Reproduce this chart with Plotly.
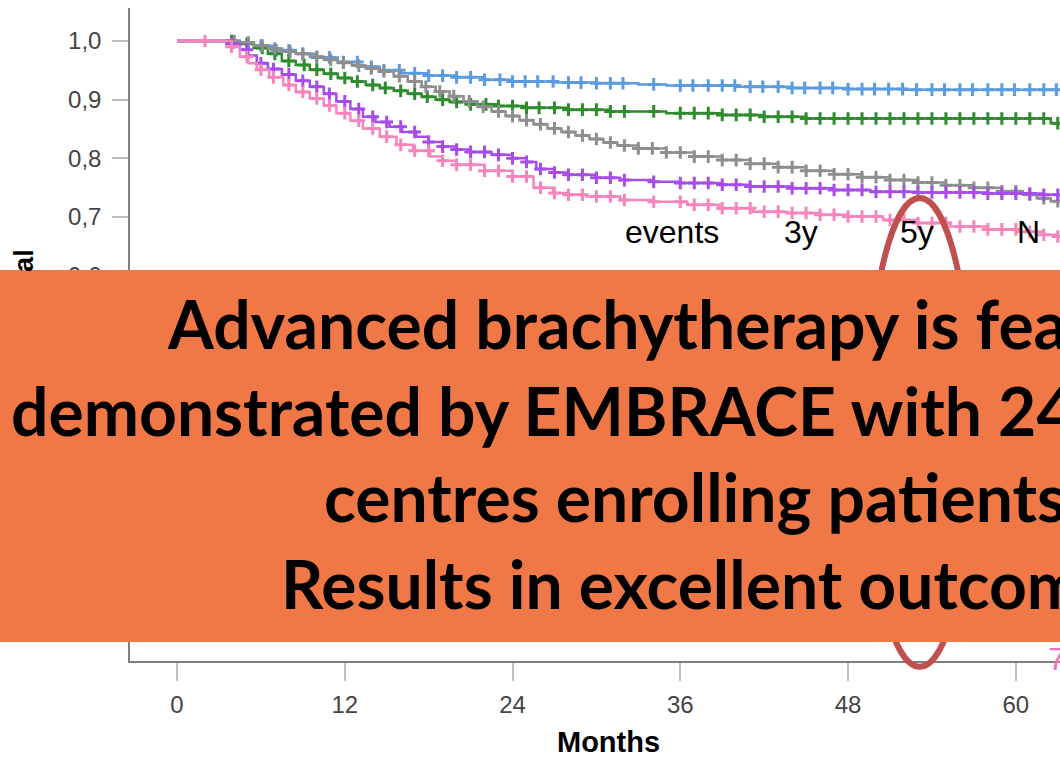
import numpy as np
import plotly.graph_objects as go

# ---------------- data ----------------
month_ticks = [0, 12, 24, 36, 48, 60]
surv_ticks = [0.0, 0.1, 0.2, 0.3, 0.4, 0.5, 0.6, 0.7, 0.8, 0.9, 1.0]
surv_ticktext = ["0,0", "0,1", "0,2", "0,3", "0,4", "0,5", "0,6", "0,7", "0,8", "0,9", "1,0"]

blue_t = [0, 4.0, 5.5, 7.0, 8.5, 10.0, 11.5, 13.0, 14.5, 16.0, 18.0, 20.0, 22.0, 24.0, 27.0, 30.0, 33.0, 35.0, 40.0, 44.0, 48.0, 52.0, 64.0]
blue_s = [1.0, 0.997, 0.992, 0.984, 0.978, 0.972, 0.964, 0.956, 0.950, 0.945, 0.941, 0.938, 0.934, 0.931, 0.929, 0.928, 0.926, 0.924, 0.922, 0.920, 0.918, 0.917, 0.917]

green_t = [0, 4.5, 5.5, 6.5, 7.5, 8.5, 9.5, 10.5, 11.5, 12.5, 13.5, 14.5, 15.5, 16.5, 17.5, 18.5, 19.5, 21.0, 23.0, 25.0, 28.0, 31.0, 35.0, 39.0, 42.0, 45.0, 62.5, 64.0]
green_s = [1.0, 0.995, 0.988, 0.978, 0.966, 0.959, 0.951, 0.944, 0.937, 0.931, 0.925, 0.920, 0.915, 0.910, 0.905, 0.900, 0.896, 0.892, 0.889, 0.886, 0.883, 0.880, 0.877, 0.874, 0.871, 0.868, 0.860, 0.860]

gray_t = [0, 4.5, 5.5, 6.5, 7.5, 8.5, 9.5, 10.5, 11.5, 12.5, 13.5, 14.5, 15.5, 16.5, 17.5, 18.5, 19.5, 20.5, 21.5, 22.5,
          23.5, 24.5, 25.5, 26.5, 27.5, 28.5, 29.5, 30.5, 31.5, 33.0, 35.0, 37.0, 39.0, 41.0, 43.0, 45.0, 47.0, 49.0, 51.0, 53.0,
          55.0, 57.0, 59.0, 60.5, 61.5, 62.5, 64.0]
gray_s = [1.0, 0.997, 0.992, 0.987, 0.982, 0.978, 0.973, 0.968, 0.963, 0.958, 0.953, 0.948, 0.940, 0.931, 0.922, 0.914, 0.906, 0.897, 0.888, 0.880,
          0.872, 0.865, 0.858, 0.851, 0.845, 0.839, 0.833, 0.827, 0.822, 0.817, 0.810, 0.803, 0.797, 0.791, 0.785, 0.779, 0.773, 0.768, 0.763, 0.759,
          0.754, 0.750, 0.744, 0.738, 0.732, 0.727, 0.724]

purple_t = [0, 3.9, 4.5, 5.1, 5.7, 6.5, 7.5, 8.5, 9.5, 10.5, 11.4, 12.4, 13.3, 14.2, 15.2, 16.1, 17.1, 18.0, 19.0, 20.0,
            21.0, 22.5, 24.0, 25.0, 25.7, 27.0, 28.0, 30.0, 31.7, 34.0, 36.0, 39.0, 41.0, 44.0, 47.0, 49.6, 53.0, 58.0, 62.0, 64.0]
purple_s = [1.0, 0.995, 0.985, 0.975, 0.962, 0.952, 0.943, 0.932, 0.922, 0.910, 0.897, 0.884, 0.871, 0.862, 0.854, 0.845, 0.837, 0.828, 0.820, 0.815,
            0.811, 0.806, 0.800, 0.794, 0.782, 0.776, 0.772, 0.767, 0.763, 0.760, 0.758, 0.755, 0.752, 0.749, 0.746, 0.743, 0.742, 0.740, 0.738, 0.737]

pink_t = [0, 3.9, 4.5, 5.1, 5.7, 6.6, 7.6, 8.5, 9.5, 10.5, 11.4, 12.4, 13.3, 14.5, 15.7, 16.9, 18.1, 19.0, 20.0, 22.0,
          24.0, 25.5, 26.9, 28.0, 29.3, 31.7, 34.0, 36.5, 38.8, 41.2, 43.6, 46.0, 48.0, 50.5, 53.0, 55.3, 58.0, 60.1, 62.0, 63.0, 64.0]
pink_s = [1.0, 0.990, 0.973, 0.962, 0.951, 0.938, 0.925, 0.913, 0.902, 0.890, 0.877, 0.864, 0.851, 0.837, 0.823, 0.813, 0.803, 0.796, 0.789, 0.779,
          0.769, 0.750, 0.741, 0.738, 0.735, 0.729, 0.726, 0.721, 0.715, 0.709, 0.707, 0.704, 0.701, 0.695, 0.690, 0.684, 0.679, 0.675, 0.670, 0.667, 0.667]

# censoring times (months)
blue_cens = [4.0, 5.1, 6.0, 7.1, 8.0, 9.0, 10.0, 10.9, 11.9, 12.9, 13.9, 14.8, 15.9, 17.0, 18.0, 19.0, 20.0, 21.0, 22.0, 23.1,
             24.0, 24.9, 25.8, 26.9, 28.0, 28.9, 30.0, 31.0, 31.9, 34.1, 36.0, 36.9, 38.0, 39.0, 39.9, 41.0, 41.9, 43.0, 44.0, 44.9,
             46.0, 46.9, 48.0, 49.0, 49.9, 50.9, 51.9, 52.9, 54.0, 54.9, 56.0, 56.9, 58.0, 59.0, 59.9, 61.0, 62.0, 62.9]
green_cens = [3.9, 5.0, 6.1, 7.0, 8.0, 9.1, 10.0, 11.0, 12.0, 12.9, 14.0, 14.9, 16.0, 17.0, 17.9, 19.0, 20.0, 21.0, 22.1, 23.0,
              24.0, 25.0, 25.9, 27.0, 28.0, 29.0, 30.0, 31.0, 32.0, 34.1, 36.0, 37.0, 38.0, 39.0, 40.0, 41.0, 42.0, 43.0, 44.0, 45.0,
              46.0, 47.0, 48.0, 49.0, 50.0, 51.0, 52.0, 53.0, 54.0, 55.0, 56.0, 57.0, 58.0, 59.0, 60.0, 61.0, 62.0, 63.0]
gray_cens = [4.1, 5.1, 6.1, 7.0, 8.1, 9.0, 10.0, 11.0, 11.9, 13.0, 13.9, 14.8, 15.9, 17.0, 17.8, 18.8, 19.8, 20.9, 21.9, 23.0,
             24.0, 25.0, 26.0, 27.0, 28.0, 29.0, 30.0, 31.0, 32.0, 33.0, 34.0, 35.0, 36.0, 37.0, 38.0, 39.0, 40.0, 41.0, 42.0, 43.0,
             44.0, 45.0, 46.0, 47.0, 48.0, 49.0, 50.0, 51.0, 52.0, 53.0, 54.0, 55.0, 56.0, 57.0, 58.0, 59.0, 60.0, 61.0, 62.0, 63.0]
purple_cens = [3.9, 5.0, 6.0, 6.9, 8.0, 9.0, 10.0, 10.9, 12.0, 13.0, 14.0, 15.0, 16.0, 17.0, 18.0, 19.0, 20.0, 21.0, 22.0, 23.0,
               24.0, 25.0, 26.0, 27.0, 28.0, 29.0, 30.0, 31.0, 32.0, 34.1, 36.0, 37.0, 38.0, 39.0, 40.0, 41.0, 42.0, 43.0, 44.0, 45.0,
               46.0, 47.0, 48.0, 49.0, 50.0, 51.0, 52.0, 53.0, 54.0, 55.0, 56.0, 57.0, 58.0, 59.0, 60.0, 61.0, 62.0, 63.0]
pink_cens = [2.0, 3.9, 5.0, 6.0, 6.9, 8.0, 9.0, 10.0, 10.9, 12.0, 13.0, 14.0, 15.0, 16.0, 17.0, 18.0, 19.0, 20.0, 21.0, 22.0,
             23.0, 24.0, 25.0, 26.0, 27.0, 28.0, 29.0, 30.0, 31.0, 32.0, 34.1, 36.0, 37.0, 38.0, 39.0, 40.0, 41.0, 42.0, 43.0, 44.0,
             45.0, 46.0, 47.0, 48.0, 49.0, 50.0, 51.0, 52.0, 53.0, 54.0, 55.0, 56.0, 57.0, 58.0, 59.0, 60.0, 61.0, 62.0, 63.0]

table_header = ["events", "3y", "5y", "N"]

box_lines = ["Advanced brachytherapy is feasible",
             "demonstrated by EMBRACE with 24",
             "centres enrolling patients",
             "Results in excellent outcome"]

# ---------------- layout geometry ----------------
W, H = 1060, 757
ML, MR, MT, MB = 130, 0, 8, 96
PW, PH = W - ML - MR, H - MT - MB
XR = [-3.362, 63.16]
YR = [-0.0561, 1.0561]

ORANGE = "#F07846"
SANS = "Liberation Sans, Arial, sans-serif"


def px2paper(px, py):
    return (px - ML) / PW, (H - MB - py) / PH


def data2paper(m, v):
    return (m - XR[0]) / (XR[1] - XR[0]), (v - YR[0]) / (YR[1] - YR[0])


def step_at(t, s, c):
    t = np.asarray(t)
    s = np.asarray(s)
    idx = np.searchsorted(t, c, side="right") - 1
    return s[np.clip(idx, 0, len(s) - 1)]


series = [
    ("blue", blue_t, blue_s, blue_cens, "#5B9BE0"),
    ("green", green_t, green_s, green_cens, "#2E8B2E"),
    ("gray", gray_t, gray_s, gray_cens, "#8E8E8E"),
    ("purple", purple_t, purple_s, purple_cens, "#A64CEB"),
    ("pink", pink_t, pink_s, pink_cens, "#F585BC"),
]

fig = go.Figure()
for name, t, s, cens, col in series:
    fig.add_trace(go.Scatter(x=t, y=s, mode="lines", line=dict(color=col, width=2.5, shape="hv"),
                             name=name, showlegend=False, hoverinfo="skip"))
    fig.add_trace(go.Scatter(x=cens, y=step_at(t, s, np.asarray(cens)), mode="markers",
                             marker=dict(symbol="cross-thin", size=9, color=col,
                                         line=dict(color=col, width=3)),
                             showlegend=False, hoverinfo="skip"))

tickfont = dict(family=SANS, size=24, color="#444444")

fig.update_xaxes(range=XR, tickvals=month_ticks, ticktext=[str(m) for m in month_ticks],
                 showline=True, linecolor="#7F7F7F", linewidth=1.5,
                 ticks="outside", ticklen=18, tickwidth=2, tickcolor="#BDBDBD",
                 ticklabelstandoff=3, tickfont=tickfont,
                 showgrid=False, zeroline=False)
fig.update_yaxes(range=YR, tickvals=surv_ticks, ticktext=surv_ticktext,
                 showline=True, linecolor="#7F7F7F", linewidth=1.5,
                 ticks="outside", ticklen=16, tickwidth=2, tickcolor="#BDBDBD",
                 ticklabelstandoff=6, tickfont=tickfont,
                 showgrid=False, zeroline=False)

shapes = []
# red ellipse around 5y column
ex0, ey0 = data2paper(49.35, -0.0661)
ex1, ey1 = data2paper(56.9, 0.7326)
shapes.append(dict(type="circle", xref="paper", yref="paper", x0=ex0, y0=ey0, x1=ex1, y1=ey1,
                   line=dict(color="#C0504D", width=6), layer="above"))
# orange overlay box
bx0, by0 = px2paper(0, 642)
bx1, by1 = px2paper(W, 270)
shapes.append(dict(type="rect", xref="paper", yref="paper", x0=bx0, y0=by0, x1=bx1, y1=by1,
                   fillcolor=ORANGE, line=dict(width=0), layer="above"))

annotations = []
# y axis title (the part lying under the orange box is drawn in the box colour)
ax_, ay_ = px2paper(23, 248)
annotations.append(dict(text=f"<b><span style='color:{ORANGE}'>Overall surviv</span>al</b>", x=ax_, y=ay_,
                        xref="paper", yref="paper", xanchor="center", yanchor="top", textangle=-90,
                        showarrow=False, font=dict(family=SANS, size=27, color="black")))
# x axis title
ax_, ay_ = px2paper(608, 742)
annotations.append(dict(text="<b>Months</b>", x=ax_, y=ay_, xref="paper", yref="paper", xanchor="center", yanchor="middle",
                        showarrow=False, font=dict(family=SANS, size=29, color="black")))
# table header
hdr_pos = [(623, 232), (782, 232), (898, 232), (1015, 232)]
for txt, (px, py) in zip(table_header, hdr_pos):
    ax_, ay_ = px2paper(px, py)
    annotations.append(dict(text=txt, x=ax_, y=ay_, xref="paper", yref="paper", xanchor="left", yanchor="middle",
                            showarrow=False, font=dict(family=SANS, size=32, color="black")))
ax_, ay_ = px2paper(1046, 659)
annotations.append(dict(text="7", x=ax_, y=ay_, xref="paper", yref="paper", xanchor="left", yanchor="middle",
                        showarrow=False, font=dict(family=SANS, size=32, color="#F56FC4")))

# box text
line_pos = [(165, 323), (9, 410), (322, 496), (279, 583)]
for txt, (px, py) in zip(box_lines, line_pos):
    ax_, ay_ = px2paper(px, py)
    annotations.append(dict(text=txt, x=ax_, y=ay_, xref="paper", yref="paper", xanchor="left", yanchor="middle",
                            showarrow=False, font=dict(family="Lato, sans-serif", size=66, color="black", weight="bold")))

fig.update_layout(width=W, height=H, margin=dict(l=ML, r=MR, t=MT, b=MB),
                  paper_bgcolor="white", plot_bgcolor="white",
                  shapes=shapes, annotations=annotations, showlegend=False)

fig.write_html("out.html",
               config={"displayModeBar": False},
               post_script="document.body.style.margin='0';document.body.style.padding='0';"
                           "document.body.style.overflow='hidden';")
